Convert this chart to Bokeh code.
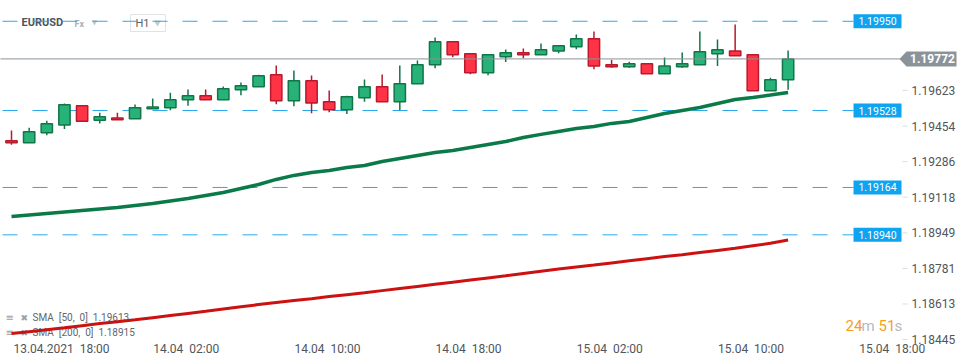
from bokeh.plotting import figure
from bokeh.models import FixedTicker, NumeralTickFormatter, ColumnDataSource, Range1d
from bokeh.core.properties import value
from bokeh.embed import file_html
from bokeh.resources import INLINE

# ---------------- data (EURUSD, H1) ----------------
opens = [1.19385, 1.19375, 1.19423, 1.19460, 1.19550, 1.19482, 1.19493, 1.19489, 1.19536, 1.19541,
         1.19579, 1.19598, 1.19579, 1.19626, 1.19640, 1.19697, 1.19574, 1.19669, 1.19569, 1.19531,
         1.19588, 1.19640, 1.19569, 1.19654, 1.19744, 1.19853, 1.19796, 1.19706, 1.19782, 1.19801,
         1.19792, 1.19810, 1.19829, 1.19867, 1.19744, 1.19735, 1.19749, 1.19702, 1.19735, 1.19744,
         1.19796, 1.19810, 1.19792, 1.19621, 1.19673]
highs = [1.19433, 1.19446, 1.19479, 1.19561, 1.19553, 1.19517, 1.19517, 1.19556, 1.19585, 1.19612,
         1.19627, 1.19627, 1.19642, 1.19660, 1.19697, 1.19741, 1.19717, 1.19694, 1.19623, 1.19598,
         1.19675, 1.19698, 1.19741, 1.19765, 1.19873, 1.19854, 1.19797, 1.19792, 1.19817, 1.19821,
         1.19845, 1.19834, 1.19888, 1.19902, 1.19768, 1.19758, 1.19750, 1.19779, 1.19802, 1.19902,
         1.19864, 1.19935, 1.19793, 1.19683, 1.19812]
lows = [1.19366, 1.19374, 1.19411, 1.19440, 1.19476, 1.19467, 1.19484, 1.19488, 1.19535, 1.19529,
        1.19550, 1.19578, 1.19578, 1.19600, 1.19639, 1.19558, 1.19548, 1.19515, 1.19520, 1.19511,
        1.19569, 1.19569, 1.19529, 1.19653, 1.19728, 1.19780, 1.19700, 1.19695, 1.19757, 1.19775,
        1.19791, 1.19799, 1.19818, 1.19723, 1.19730, 1.19730, 1.19701, 1.19701, 1.19730, 1.19743,
        1.19738, 1.19787, 1.19621, 1.19620, 1.19626]
closes = [1.19375, 1.19427, 1.19465, 1.19555, 1.19477, 1.19498, 1.19484, 1.19541, 1.19545, 1.19579,
          1.19598, 1.19579, 1.19631, 1.19645, 1.19692, 1.19574, 1.19669, 1.19564, 1.19531, 1.19593,
          1.19640, 1.19569, 1.19654, 1.19744, 1.19853, 1.19792, 1.19706, 1.19792, 1.19801, 1.19792,
          1.19815, 1.19834, 1.19867, 1.19739, 1.19735, 1.19749, 1.19702, 1.19739, 1.19749, 1.19806,
          1.19815, 1.19787, 1.19621, 1.19673, 1.19772]
sma50 = [1.19027, 1.19034, 1.19041, 1.19048, 1.19055, 1.19062, 1.19069, 1.19079, 1.19088, 1.19100,
         1.19112, 1.19126, 1.19140, 1.19159, 1.19178, 1.19202, 1.19221, 1.19235, 1.19244, 1.19258,
         1.19268, 1.19287, 1.19301, 1.19315, 1.19329, 1.19339, 1.19353, 1.19367, 1.19381, 1.19400,
         1.19415, 1.19429, 1.19443, 1.19452, 1.19467, 1.19476, 1.19495, 1.19514, 1.19528, 1.19542,
         1.19561, 1.19580, 1.19590, 1.19601, 1.19613]
sma200 = [1.18473, 1.18482, 1.18491, 1.18500, 1.18510, 1.18520, 1.18529, 1.18538, 1.18548, 1.18558,
          1.18568, 1.18578, 1.18589, 1.18600, 1.18610, 1.18620, 1.18629, 1.18638, 1.18648, 1.18657,
          1.18666, 1.18676, 1.18686, 1.18696, 1.18706, 1.18716, 1.18726, 1.18736, 1.18746, 1.18757,
          1.18768, 1.18778, 1.18788, 1.18797, 1.18807, 1.18817, 1.18827, 1.18837, 1.18846, 1.18856,
          1.18866, 1.18876, 1.18888, 1.18900, 1.18915]
# hours after 13.04.2021 18:00
hours = list(range(len(opens)))

levels = [1.19950, 1.19528, 1.19164, 1.18940]
level_labels = ["1.19950", "1.19528", "1.19164", "1.18940"]
last_price = "1.19772"

x_tick_hours = [0, 8, 16, 24, 32, 40, 48]
x_tick_labels = ["13.04.2021\u00a0 18:00", "14.04\u00a0 02:00", "14.04\u00a0 10:00", "14.04\u00a0 18:00",
                 "15.04\u00a0 02:00", "15.04\u00a0 10:00", "15.04\u00a0 18:00"]
y_ticks = [1.18445, 1.18613, 1.18781, 1.18949, 1.19118, 1.19286, 1.19454, 1.19623]

sma_legend = ["SMA\u00a0 [50,\u00a0 0]\u00a0 1.19613", "SMA\u00a0 [200,\u00a0 0]\u00a0 1.18915"]
timer_parts = ["24", "m", "51", "s"]

# ---------------- pixel helpers (layout only) ----------------
def hx(px):
    return (px - 11) / 17.65

def py(pix):
    return 1.19528 + (110 - pix) / 21142

PX = 1 / 21142.0
FONT = value("Roboto")
# x labels are left-aligned at their tick: centre each label half its width right of it
x_label_px_widths = [98, 65, 65, 65, 65, 65, 65]
x_label_pos = [h + (1 + w / 2) / 17.65 for h, w in zip(x_tick_hours, x_label_px_widths)]

p = figure(width=970, height=364, output_backend="svg", toolbar_location=None,
           x_range=Range1d(hx(0), hx(970)), y_range=Range1d(py(340), py(0)),
           y_axis_location="right", min_border_left=0, min_border_top=0,
           min_border_right=0, min_border_bottom=24)
p.grid.visible = False
p.outline_line_color = None
p.background_fill_color = "white"
p.border_fill_color = "white"

# x axis
xa = p.xaxis[0]
xa.ticker = FixedTicker(ticks=x_label_pos)
xa.major_label_overrides = {pos: lab for pos, lab in zip(x_label_pos, x_tick_labels)}
xa.axis_line_color = None
xa.major_tick_line_color = None
xa.major_tick_out = 0
xa.major_tick_in = 0
xa.minor_tick_line_color = None
xa.major_label_standoff = 1
xa.major_label_text_font = "Roboto"
xa.major_label_text_font_size = "12px"
xa.major_label_text_color = "#50565b"

# y axis (labels pulled back left of the price-tag column)
ya = p.yaxis[0]
ya.ticker = FixedTicker(ticks=y_ticks)
ya.formatter = NumeralTickFormatter(format="0.00000")
ya.axis_line_color = None
ya.major_tick_line_color = None
ya.major_tick_out = 0
ya.major_tick_in = 0
ya.minor_tick_line_color = None
ya.major_label_standoff = -59
ya.major_label_text_font = "Roboto"
ya.major_label_text_font_size = "12px"
ya.major_label_text_color = "#50565b"
p.segment(x0=[hx(902)] * len(y_ticks), y0=y_ticks, x1=[hx(907)] * len(y_ticks), y1=y_ticks,
          line_color="#dcdcdc", line_width=1)

# ---------------- header ----------------
p.text(x=[hx(21)], y=[py(22)], text=["EURUSD"], text_font=FONT, text_font_style="bold",
       text_font_size="11px", text_color="#4b5560", text_baseline="middle", text_align="left")
p.text(x=[hx(74)], y=[py(23)], text=["Fx"], text_font=FONT, text_font_style="bold",
       text_font_size="9px", text_color="#a9b1b7", text_baseline="middle", text_align="left")
p.scatter(x=[hx(94)], y=[py(21.5)], marker="inverted_triangle", size=6,
          fill_color="#c3c9cd", line_color=None)
p.quad(left=[hx(130)], right=[hx(165)], top=[py(14)], bottom=[py(31)],
       fill_color="white", line_color="#dfe3e6", line_width=1)
p.text(x=[hx(135)], y=[py(23)], text=["H1"], text_font=FONT, text_font_size="11px",
       text_color="#5a6167", text_baseline="middle", text_align="left")
p.scatter(x=[hx(157)], y=[py(22)], marker="inverted_triangle", size=7,
          fill_color="#c3c9cd", line_color=None)

# ---------------- SMA legend (under lines) ----------------
for row, txt in zip([317, 332], sma_legend):
    p.text(x=[hx(5)], y=[py(row)], text=["≡"], text_font=value("DejaVu Sans"),
           text_font_size="10px", text_color="#9aa1a6", text_baseline="middle", text_align="left")
    p.text(x=[hx(20)], y=[py(row)], text=["✖"], text_font=value("DejaVu Sans"),
           text_font_size="9px", text_color="#9aa1a6", text_baseline="middle", text_align="left")
    p.text(x=[hx(32)], y=[py(row)], text=[txt], text_font=FONT, text_font_size="10px",
           text_color="#5f666b", text_baseline="middle", text_align="left")

# ---------------- level lines ----------------
for lv in levels:
    p.segment(x0=[hx(2)], y0=[lv], x1=[hx(853)], y1=[lv], line_color="#2aa9ee",
              line_width=1, line_dash="15 15")
for lv, lab in zip(levels, level_labels):
    p.quad(left=[hx(853)], right=[hx(901)], top=[lv + 7 * PX], bottom=[lv - 7 * PX],
           fill_color="#0ea4ef", line_color=None)
    p.text(x=[hx(877)], y=[lv], text=[lab], text_font=FONT, text_font_size="10.5px",
           text_color="white", text_baseline="middle", text_align="center")

# ---------------- candles ----------------
up = [c >= o for o, c in zip(opens, closes)]
src = ColumnDataSource(dict(
    hours=hours, opens=opens, highs=highs, lows=lows, closes=closes,
    top=[max(o, c) for o, c in zip(opens, closes)],
    bottom=[min(o, c) for o, c in zip(opens, closes)],
    fill=["#26b279" if u else "#ff3346" for u in up],
    edge=["#127548" if u else "#b8192c" for u in up],
))
p.segment(x0="hours", y0="lows", x1="hours", y1="highs", line_color="edge",
          line_width=1.5, source=src)
p.vbar(x="hours", width=0.64, top="top", bottom="bottom", fill_color="fill",
       line_color="edge", line_width=1.5, source=src)

# current price line
yl = closes[-1]
p.segment(x0=[hx(-5)], y0=[yl], x1=[hx(900)], y1=[yl], line_color="#8a9399", line_width=1)

# SMA lines
p.line(hours, sma50, line_color="#0b7a49", line_width=3.5)
p.line(hours, sma200, line_color="#cc1111", line_width=3)

# ---------------- countdown ----------------
for xpx, txt, col in zip([845, 861, 878, 894], timer_parts,
                         ["#f5a01a", "#b3bbc0", "#f5a01a", "#b3bbc0"]):
    p.text(x=[hx(xpx)], y=[py(325)], text=[txt], text_font=FONT, text_font_size="15px",
           text_color=col, text_baseline="alphabetic", text_align="left")

# ---------------- current price tag ----------------
p.patch(x=[hx(899), hx(906), hx(956), hx(956), hx(906)],
        y=[yl, yl + 7.5 * PX, yl + 7.5 * PX, yl - 7.5 * PX, yl - 7.5 * PX],
        fill_color="#8a9399", line_color=None)
p.text(x=[hx(932)], y=[yl], text=[last_price], text_font=FONT, text_font_style="bold",
       text_font_size="12px", text_color="white", text_baseline="middle", text_align="center")

open("out.html", "w").write(file_html(p, INLINE))
